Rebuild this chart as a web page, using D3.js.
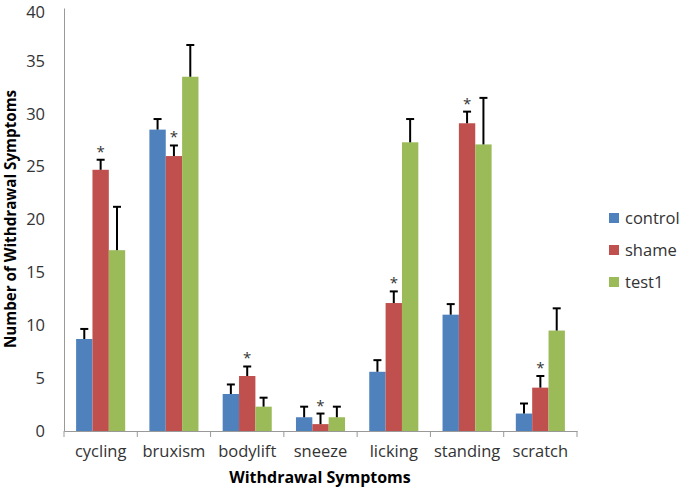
<!DOCTYPE html>
<html><head><meta charset="utf-8">
<script src="https://cdn.jsdelivr.net/npm/d3@7"></script>
<style>body{margin:0;background:#fff}svg{display:block}</style>
</head><body>
<svg id="c" width="682" height="490"></svg>
<script>
const categories = ["cycling","bruxism","bodylift","sneeze","licking","standing","scratch"];
const seriesNames = ["control","shame","test1"];
const control = [8.7, 28.5, 3.5, 1.3, 5.6, 11.0, 1.65];
const shame   = [24.7, 26.0, 5.2, 0.65, 12.1, 29.1, 4.1];
const test1   = [17.1, 33.5, 2.3, 1.3, 27.3, 27.1, 9.5];
const controlErr = [0.95, 1.0, 0.9, 1.0, 1.1, 1.0, 0.95];
const shameErr   = [0.95, 1.0, 0.9, 1.0, 1.1, 1.1, 1.1];
const test1Err   = [4.1, 3.0, 0.85, 1.0, 2.2, 4.4, 2.1];
const starred    = [[false,true,false],[false,true,false],[false,true,false],[false,true,false],[false,true,false],[false,true,false],[false,true,false]];
const yTicks = [0,5,10,15,20,25,30,35,40];
const colors = ["#4F81BD","#C0504D","#9BBB59"];

const values = [control, shame, test1];
const errs = [controlErr, shameErr, test1Err];
const svg = d3.select("#c");
const m = {left:64, right:105, top:8, bottom:59};
const W = 682, H = 490;
const x0 = d3.scaleBand().domain(categories).range([m.left, W - m.right]).paddingInner(0).paddingOuter(0);
const x1 = d3.scaleBand().domain(seriesNames).range([0, x0.bandwidth()]).paddingInner(0).paddingOuter(0.74);
const y = d3.scaleLinear().domain([0,40]).range([H - m.bottom, m.top]);
const font = "'Open Sans', 'Noto Sans', sans-serif";

// y axis
const ya = svg.append("g").attr("transform",`translate(${m.left},0)`).call(d3.axisLeft(y).tickValues(yTicks).tickSize(0).tickPadding(19));
ya.select(".domain").attr("stroke","#999").attr("stroke-width",1);
ya.selectAll("text").attr("font-family",font).attr("font-size",16.5).attr("fill","#333");
ya.selectAll(".tick").filter(d=>d===40).select("text").attr("dy","0.6em");

// bars
const data = [];
categories.forEach((c,i)=>seriesNames.forEach((s,j)=>data.push({c,s,j,v:values[j][i],e:errs[j][i],star:starred[i][j]})));
const g = svg.append("g");
g.selectAll("rect").data(data).join("rect")
  .attr("x",d=>x0(d.c)+x1(d.s)).attr("width",x1.bandwidth())
  .attr("y",d=>y(d.v)).attr("height",d=>y(0)-y(d.v)).attr("fill",d=>colors[d.j]);
// error bars
const cx = d=>x0(d.c)+x1(d.s)+x1.bandwidth()/2;
const eb = g.selectAll("g.eb").data(data).join("g").attr("class","eb");
eb.append("line").attr("x1",cx).attr("x2",cx)
  .attr("y1",d=>y(d.v)).attr("y2",d=>y(d.v+d.e)).attr("stroke","#000").attr("stroke-width",2);
eb.append("line").attr("x1",d=>cx(d)-4).attr("x2",d=>cx(d)+4)
  .attr("y1",d=>y(d.v+d.e)).attr("y2",d=>y(d.v+d.e)).attr("stroke","#000").attr("stroke-width",2);
g.selectAll("text.star").data(data.filter(d=>d.star)).join("text").attr("class","star")
  .attr("x",cx).attr("y",d=>y(d.v+d.e)-3)
  .attr("text-anchor","middle").attr("font-family",font).attr("font-size",15).attr("fill","#333").text("*");

// x axis
const xa = svg.append("g").attr("transform",`translate(0,${y(0)})`).call(d3.axisBottom(x0).tickSize(0).tickPadding(14));
xa.select(".domain").attr("stroke","#999");
xa.selectAll("text").attr("font-family",font).attr("font-size",16.5).attr("fill","#333");
const bounds = categories.map(c=>x0(c)).concat([x0(categories[categories.length-1])+x0.bandwidth()]);
svg.append("g").selectAll("line").data(bounds).join("line")
  .attr("x1",d=>d).attr("x2",d=>d).attr("y1",y(0)).attr("y2",y(0)+6).attr("stroke","#999");

// titles
svg.append("text").attr("x",320).attr("y",483).attr("text-anchor","middle")
  .attr("font-family",font).attr("font-size",16).attr("font-weight","bold").attr("fill","#000").text("Withdrawal Symptoms");
svg.append("text").attr("transform",`translate(16,219) rotate(-90)`).attr("text-anchor","middle")
  .attr("font-family",font).attr("font-size",15.2).attr("font-weight","bold").attr("fill","#000").text("Number of Withdrawal Symptoms");

// legend
const lg = svg.append("g").selectAll("g").data(seriesNames).join("g")
  .attr("transform",(d,i)=>`translate(609,${218 + i*32})`);
lg.append("rect").attr("x",0).attr("y",-5).attr("width",10).attr("height",10).attr("fill",(d,i)=>colors[i]);
lg.append("text").attr("x",16).attr("y",0).attr("dy","0.35em").attr("font-family",font).attr("font-size",16.5).attr("fill","#333").text(d=>d);
</script>
</body></html>
